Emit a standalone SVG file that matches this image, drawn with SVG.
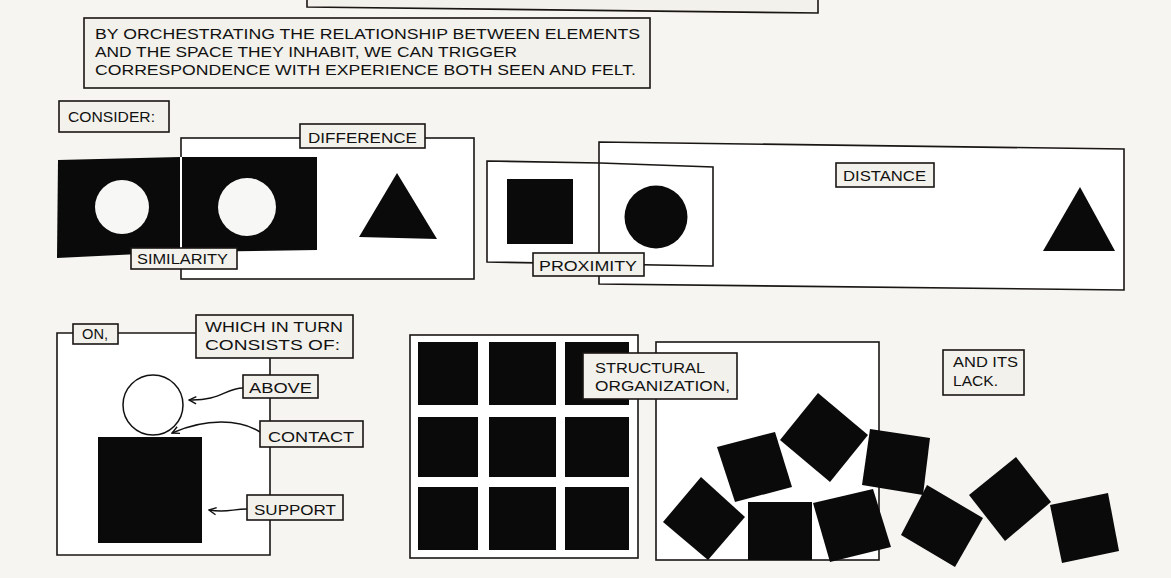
<svg xmlns="http://www.w3.org/2000/svg" width="1171" height="578" viewBox="0 0 1171 578">
<defs>
<style>
.lbl{fill:#f3f1ec;stroke:#1a1614;stroke-width:1.6}
.frm{fill:#ffffff;stroke:#1a1614;stroke-width:1.6}
.ln{fill:none;stroke:#1a1614;stroke-width:1.6}
.blk{fill:#0a0a0a}
.t{font-family:"Liberation Sans","DejaVu Sans",sans-serif;font-size:14px;fill:#111;lengthAdjust:spacingAndGlyphs}
.tm{font-family:"Liberation Sans","DejaVu Sans",sans-serif;font-size:15px;fill:#111}
.arr{fill:none;stroke:#111;stroke-width:1.5}
</style>
<marker id="ah" viewBox="0 0 10 10" refX="9" refY="5" markerWidth="9" markerHeight="9" markerUnits="userSpaceOnUse" orient="auto">
<path d="M1,1 L9,5 L1,9" fill="none" stroke="#111" stroke-width="1.6"/>
</marker>
</defs>
<rect x="0" y="0" width="1171" height="578" fill="#f6f5f2"/>

<g id="top-box">
<path d="M307,-4 L307,7 L818,13 L818,-4 Z" class="lbl"/>
</g>

<g id="intro">
<rect x="84" y="18" width="566" height="70" class="lbl"/>
<text class="tm" x="95" y="39" textLength="545" lengthAdjust="spacingAndGlyphs">BY ORCHESTRATING THE RELATIONSHIP BETWEEN ELEMENTS</text>
<text class="tm" x="95" y="57" textLength="422" lengthAdjust="spacingAndGlyphs">AND THE SPACE THEY INHABIT, WE CAN TRIGGER</text>
<text class="tm" x="95" y="75" textLength="541" lengthAdjust="spacingAndGlyphs">CORRESPONDENCE WITH EXPERIENCE BOTH SEEN AND FELT.</text>
</g>

<g id="consider">
<rect x="59" y="101" width="110" height="31" class="lbl"/>
<text class="t" x="68" y="122" textLength="87" lengthAdjust="spacingAndGlyphs">CONSIDER:</text>
</g>

<g id="difference-panel">
<rect x="181" y="138" width="293" height="141" class="frm"/>
<path d="M58,160 L180,157 L180,252 L57,258 Z" class="blk"/>
<path d="M182,157 L317,157 L317,250 L182,252 Z" class="blk"/>
<line x1="181" y1="157" x2="181" y2="252" stroke="#fff" stroke-width="2"/>
<circle cx="122" cy="207" r="27" fill="#f7f7f5"/>
<circle cx="247" cy="207" r="29" fill="#f7f7f5"/>
<polygon points="397,173 359,237 437,239" class="blk"/>
</g>

<g id="difference">
<rect x="300" y="124" width="125" height="24" class="lbl"/>
<text class="t" x="308" y="143" textLength="109" lengthAdjust="spacingAndGlyphs">DIFFERENCE</text>
</g>

<g id="similarity">
<rect x="131" y="248" width="106" height="21" class="lbl"/>
<text class="t" x="137" y="264" textLength="91" lengthAdjust="spacingAndGlyphs">SIMILARITY</text>
</g>

<g id="distance-panel">
<path d="M487,161 L600,163 L713,167 L713,266 L487,262 Z" fill="#fff"/>
<path d="M599,142 L1124,149 L1124,290 L599,284 Z" class="frm"/>
<path d="M487,161 L600,163 L713,167 L713,266 L487,262 Z" class="ln"/>
<rect x="507" y="179" width="66" height="65" class="blk"/>
<circle cx="656" cy="217" r="31.5" class="blk"/>
<polygon points="1080,187 1043,251 1115,251" class="blk"/>
</g>

<g id="proximity">
<rect x="533" y="253" width="111" height="23" class="lbl"/>
<text class="t" x="539" y="271" textLength="98" lengthAdjust="spacingAndGlyphs">PROXIMITY</text>
</g>

<g id="distance">
<rect x="836" y="163" width="98" height="24" class="lbl"/>
<text class="t" x="843" y="181" textLength="83" lengthAdjust="spacingAndGlyphs">DISTANCE</text>
</g>

<g id="on-panel">
<rect x="57" y="333" width="213" height="222" fill="#fff"/>
<path d="M73,333 L57,333 L57,555 L270,555 L270,358" class="ln"/>
<line x1="118" y1="333" x2="197" y2="333" class="ln"/>
<circle cx="153" cy="405" r="30" fill="#fff" stroke="#111" stroke-width="1.5"/>
<rect x="98" y="437" width="104" height="106" class="blk"/>
</g>

<g id="connectors">
<path d="M243,388 C226,388 220,401 189,400" class="arr" marker-end="url(#ah)"/>
<path d="M260,432 C240,419 206,418 172,433" class="arr" marker-end="url(#ah)"/>
<path d="M247,509 C232,509 227,513 209,510" class="arr" marker-end="url(#ah)"/>
</g>

<g id="on">
<rect x="73" y="324" width="45" height="20" class="lbl"/>
<text class="t" x="82" y="339" textLength="26" lengthAdjust="spacingAndGlyphs">ON,</text>
</g>

<g id="which">
<rect x="196" y="315" width="157" height="43" class="lbl"/>
<text class="t" x="205" y="332" textLength="138" lengthAdjust="spacingAndGlyphs">WHICH IN TURN</text>
<text class="t" x="205" y="350" textLength="135" lengthAdjust="spacingAndGlyphs">CONSISTS OF:</text>
</g>

<g id="above">
<rect x="243" y="375" width="75" height="23" class="lbl"/>
<text class="t" x="249" y="393" textLength="63" lengthAdjust="spacingAndGlyphs">ABOVE</text>
</g>

<g id="contact">
<rect x="260" y="421" width="103" height="26" class="lbl"/>
<text class="t" x="268" y="442" textLength="86" lengthAdjust="spacingAndGlyphs">CONTACT</text>
</g>

<g id="support">
<rect x="247" y="495" width="96" height="25" class="lbl"/>
<text class="t" x="254" y="515" textLength="82" lengthAdjust="spacingAndGlyphs">SUPPORT</text>
</g>

<g id="grid-panel">
<rect x="410" y="335" width="228" height="223" class="frm"/>
<rect x="418" y="342" width="60" height="63" class="blk"/>
<rect x="489" y="342" width="67" height="63" class="blk"/>
<rect x="565" y="342" width="64" height="63" class="blk"/>
<rect x="418" y="417" width="60" height="60" class="blk"/>
<rect x="489" y="417" width="67" height="60" class="blk"/>
<rect x="565" y="417" width="64" height="60" class="blk"/>
<rect x="418" y="487" width="60" height="63" class="blk"/>
<rect x="489" y="487" width="67" height="63" class="blk"/>
<rect x="565" y="487" width="64" height="63" class="blk"/>
</g>

<g id="scatter-panel">
<rect x="656" y="342" width="223" height="218" class="frm"/>
<polygon points="701,477 745,517 708,560 663,522" class="blk"/>
<polygon points="717,447 775,432 792,487 735,502" class="blk"/>
<polygon points="818,393 868,435 830,482 780,440" class="blk"/>
<polygon points="748,502 812,502 812,560 748,560" class="blk"/>
<polygon points="813,503 873,489 891,547 830,562" class="blk"/>
</g>

<g id="lack-squares">
<polygon points="870,429 930,438 923,495 862,485" class="blk"/>
<polygon points="927,485 983,518 955,567 901,535" class="blk"/>
<polygon points="1016,457 1051,502 1005,541 969,495" class="blk"/>
<polygon points="1050,505 1108,493 1119,551 1062,563" class="blk"/>
</g>

<g id="structural">
<rect x="583" y="353" width="154" height="46" class="lbl"/>
<text class="t" x="595" y="373" textLength="110" lengthAdjust="spacingAndGlyphs">STRUCTURAL</text>
<text class="t" x="595" y="391" textLength="135" lengthAdjust="spacingAndGlyphs">ORGANIZATION,</text>
</g>

<g id="lack">
<rect x="943" y="350" width="81" height="45" class="lbl"/>
<text class="t" x="953" y="367" textLength="65" lengthAdjust="spacingAndGlyphs">AND ITS</text>
<text class="t" x="953" y="386" textLength="45" lengthAdjust="spacingAndGlyphs">LACK.</text>
</g>
</svg>
